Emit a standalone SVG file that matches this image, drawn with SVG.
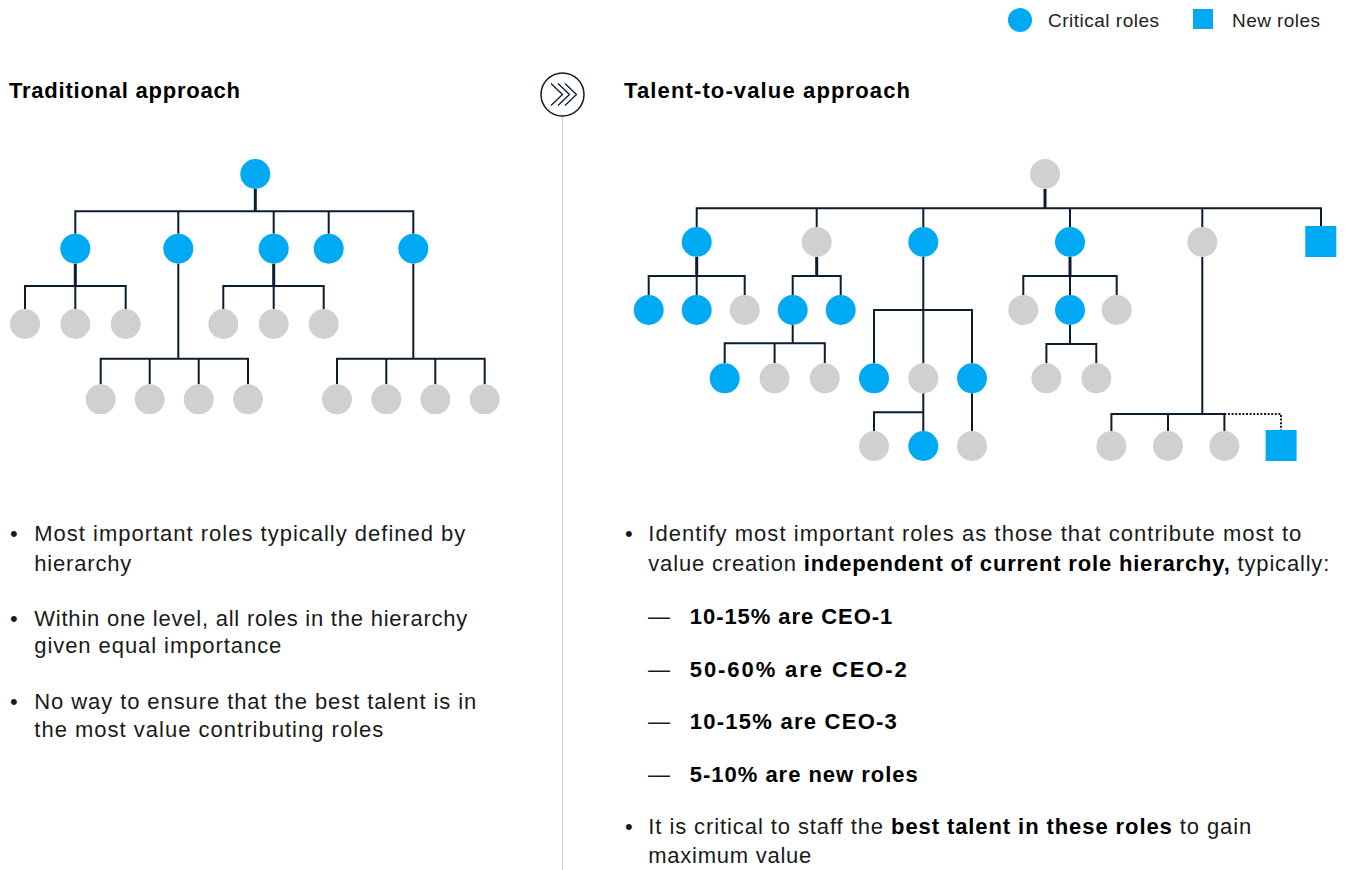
<svg xmlns="http://www.w3.org/2000/svg" width="1345" height="870" viewBox="0 0 1345 870">
<style>
.ln{stroke:#0b1d2e;stroke-width:2;fill:none}
.st{stroke:#0b1d2e;stroke-width:3;fill:none}
.dot{stroke:#0b1d2e;stroke-width:2;stroke-dasharray:2 1.6;fill:none}
.c{fill:#00a9f4}
.g{fill:#d0d0d0}
.t{font-family:"Liberation Sans",Arial,sans-serif;font-size:22px;fill:#1a1a1a}
.b{font-weight:bold;fill:#000}
.h{font-family:"Liberation Sans",Arial,sans-serif;font-size:22px;font-weight:bold;fill:#000}
.lg{font-family:"Liberation Sans",Arial,sans-serif;font-size:19px;fill:#222}
.sep{stroke:#cfcfcf;stroke-width:1;fill:none}
.chev{stroke:#0b1d2e;stroke-width:1.3;fill:none}
</style>
<rect width="1345" height="870" fill="#fff"/>

<g id="legend">
  <circle class="c" cx="1020" cy="20" r="12"/>
  <text class="lg" x="1048" y="27" textLength="111" lengthAdjust="spacing">Critical roles</text>
  <rect class="c" x="1193" y="9" width="20" height="20"/>
  <text class="lg" x="1232" y="27" textLength="88" lengthAdjust="spacing">New roles</text>
</g>

<g id="divider">
  <line class="sep" x1="562.5" y1="116" x2="562.5" y2="870"/>
  <circle cx="562.5" cy="94.5" r="21.5" fill="#fff" stroke="#0b1d2e" stroke-width="1.5"/>
  <path class="chev" d="M551 83.5 L562.5 94.5 L551 105.5 M558 83.5 L569.5 94.5 L558 105.5 M565 83.5 L576.5 94.5 L565 105.5"/>
</g>

<g id="headers">
  <text class="h" x="9" y="98" textLength="231" lengthAdjust="spacing">Traditional approach</text>
  <text class="h" x="624" y="98" textLength="286" lengthAdjust="spacing">Talent-to-value approach</text>
</g>

<g id="connectors">
  <!-- left tree -->
  <path class="st" d="M255.3 189 V211.3"/>
  <path class="ln" d="M75.3 233.7 V211.3 H413.3 V233.7 M178.3 211.3 V233.7 M273.7 211.3 V233.7 M328.7 211.3 V233.7"/>
  <path class="st" d="M75.3 263.7 V286 M273.7 263.7 V286"/>
  <path class="ln" d="M25 309 V286 H125.7 V309 M75.3 286 V309"/>
  <path class="ln" d="M223.3 309 V286 H323.7 V309 M273.7 286 V309"/>
  <path class="ln" d="M178.3 263.7 V358.7 M413.3 263.7 V358.7"/>
  <path class="ln" d="M100.7 384.3 V358.7 H248 V384.3 M149.7 358.7 V384.3 M198.7 358.7 V384.3"/>
  <path class="ln" d="M337 384.3 V358.7 H484.7 V384.3 M386.3 358.7 V384.3 M435.3 358.7 V384.3"/>
  <!-- right tree -->
  <path class="st" d="M1045 189 V208.3"/>
  <path class="ln" d="M696.7 227 V208.3 H1321 V226 M816.7 208.3 V227 M923.3 208.3 V227 M1070 208.3 V227 M1202.3 208.3 V227"/>
  <path class="st" d="M696.7 257 V276 M816.7 257 V276 M1070 257 V276"/>
  <path class="ln" d="M648.7 295 V276 H744.7 V295 M696.7 276 V295"/>
  <path class="ln" d="M792.7 295 V276 H840.7 V295"/>
  <path class="ln" d="M792.7 325 V343.3 M724.7 363.3 V343.3 H824.8 V363.3 M774.6 343.3 V363.3"/>
  <path class="ln" d="M923.3 257 V310 M874 363.3 V310 H972 V363.3 M923.3 310 V363.3"/>
  <path class="ln" d="M923.3 393.3 V431 M874 431 V412.3 H923.3"/>
  <path class="ln" d="M972 393.3 V431"/>
  <path class="ln" d="M1023.3 295 V276 H1116.7 V295 M1070 276 V295"/>
  <path class="ln" d="M1070 325 V344 M1046.4 363.3 V344 H1096.3 V363.3"/>
  <path class="ln" d="M1202.3 257 V414 M1111.4 431 V414 H1224.4 V431 M1168 414 V431"/>
  <path class="dot" d="M1224.4 414 H1281 V430"/>
</g>

<g id="left-tree">
  <g id="L-root"><circle class="c" cx="255.3" cy="174" r="15"/></g>
  <g id="L-a"><circle class="c" cx="75.3" cy="248.7" r="15"/></g>
  <g id="L-b"><circle class="c" cx="178.3" cy="248.7" r="15"/></g>
  <g id="L-c"><circle class="c" cx="273.7" cy="248.7" r="15"/></g>
  <g id="L-d"><circle class="c" cx="328.7" cy="248.7" r="15"/></g>
  <g id="L-e"><circle class="c" cx="413.3" cy="248.7" r="15"/></g>
  <g id="L-a1"><circle class="g" cx="25" cy="324" r="15"/></g>
  <g id="L-a2"><circle class="g" cx="75.3" cy="324" r="15"/></g>
  <g id="L-a3"><circle class="g" cx="125.7" cy="324" r="15"/></g>
  <g id="L-c1"><circle class="g" cx="223.3" cy="324" r="15"/></g>
  <g id="L-c2"><circle class="g" cx="273.7" cy="324" r="15"/></g>
  <g id="L-c3"><circle class="g" cx="323.7" cy="324" r="15"/></g>
  <g id="L-b1"><circle class="g" cx="100.7" cy="399.3" r="15"/></g>
  <g id="L-b2"><circle class="g" cx="149.7" cy="399.3" r="15"/></g>
  <g id="L-b3"><circle class="g" cx="198.7" cy="399.3" r="15"/></g>
  <g id="L-b4"><circle class="g" cx="248" cy="399.3" r="15"/></g>
  <g id="L-e1"><circle class="g" cx="337" cy="399.3" r="15"/></g>
  <g id="L-e2"><circle class="g" cx="386.3" cy="399.3" r="15"/></g>
  <g id="L-e3"><circle class="g" cx="435.3" cy="399.3" r="15"/></g>
  <g id="L-e4"><circle class="g" cx="484.7" cy="399.3" r="15"/></g>
</g>

<g id="right-tree">
  <g id="R-root"><circle class="g" cx="1045" cy="174" r="15"/></g>
  <g id="R-a"><circle class="c" cx="696.7" cy="242" r="15"/></g>
  <g id="R-b"><circle class="g" cx="816.7" cy="242" r="15"/></g>
  <g id="R-c"><circle class="c" cx="923.3" cy="242" r="15"/></g>
  <g id="R-d"><circle class="c" cx="1070" cy="242" r="15"/></g>
  <g id="R-e"><circle class="g" cx="1202.3" cy="242" r="15"/></g>
  <g id="R-new1"><rect class="c" x="1305.3" y="226" width="31" height="31"/></g>
  <g id="R-a1"><circle class="c" cx="648.7" cy="310" r="15"/></g>
  <g id="R-a2"><circle class="c" cx="696.7" cy="310" r="15"/></g>
  <g id="R-a3"><circle class="g" cx="744.7" cy="310" r="15"/></g>
  <g id="R-b1"><circle class="c" cx="792.7" cy="310" r="15"/></g>
  <g id="R-b2"><circle class="c" cx="840.7" cy="310" r="15"/></g>
  <g id="R-b1a"><circle class="c" cx="724.7" cy="378.3" r="15"/></g>
  <g id="R-b1b"><circle class="g" cx="774.6" cy="378.3" r="15"/></g>
  <g id="R-b1c"><circle class="g" cx="824.8" cy="378.3" r="15"/></g>
  <g id="R-c1"><circle class="c" cx="874" cy="378.3" r="15"/></g>
  <g id="R-c2"><circle class="g" cx="923.3" cy="378.3" r="15"/></g>
  <g id="R-c3"><circle class="c" cx="972" cy="378.3" r="15"/></g>
  <g id="R-c2a"><circle class="g" cx="874" cy="446" r="15"/></g>
  <g id="R-c2b"><circle class="c" cx="923.3" cy="446" r="15"/></g>
  <g id="R-c3a"><circle class="g" cx="972" cy="446" r="15"/></g>
  <g id="R-d1"><circle class="g" cx="1023.3" cy="310" r="15"/></g>
  <g id="R-d2"><circle class="c" cx="1070" cy="310" r="15"/></g>
  <g id="R-d3"><circle class="g" cx="1116.7" cy="310" r="15"/></g>
  <g id="R-d2a"><circle class="g" cx="1046.4" cy="378.3" r="15"/></g>
  <g id="R-d2b"><circle class="g" cx="1096.3" cy="378.3" r="15"/></g>
  <g id="R-e1"><circle class="g" cx="1111.4" cy="446" r="15"/></g>
  <g id="R-e2"><circle class="g" cx="1168" cy="446" r="15"/></g>
  <g id="R-e3"><circle class="g" cx="1224.4" cy="446" r="15"/></g>
  <g id="R-new2"><rect class="c" x="1265.6" y="430" width="31" height="31"/></g>
</g>

<g id="left-text" class="t">
  <text x="10" y="541">•</text>
  <text x="34.3" y="541" textLength="431" lengthAdjust="spacing">Most important roles typically defined by</text>
  <text x="34.3" y="570.7" textLength="97" lengthAdjust="spacing">hierarchy</text>
  <text x="10" y="625.7">•</text>
  <text x="34.3" y="625.7" textLength="433" lengthAdjust="spacing">Within one level, all roles in the hierarchy</text>
  <text x="34.3" y="653.3" textLength="247" lengthAdjust="spacing">given equal importance</text>
  <text x="10" y="709.3">•</text>
  <text x="34.3" y="709.3" textLength="442" lengthAdjust="spacing">No way to ensure that the best talent is in</text>
  <text x="34.3" y="737" textLength="349" lengthAdjust="spacing">the most value contributing roles</text>
</g>

<g id="right-text" class="t">
  <text x="625" y="541">•</text>
  <text x="648.3" y="541" textLength="653" lengthAdjust="spacing">Identify most important roles as those that contribute most to</text>
  <text x="648.3" y="570.7" textLength="681" lengthAdjust="spacing">value creation <tspan class="b">independent of current role hierarchy,</tspan> typically:</text>
  <text x="648" y="624.3">—</text>
  <text class="b" x="689.8" y="624.3" textLength="202.5" lengthAdjust="spacing">10-15% are CEO-1</text>
  <text x="648" y="676.7">—</text>
  <text class="b" x="689.8" y="676.7" textLength="217" lengthAdjust="spacing">50-60% are CEO-2</text>
  <text x="648" y="729.3">—</text>
  <text class="b" x="689.8" y="729.3" textLength="207" lengthAdjust="spacing">10-15% are CEO-3</text>
  <text x="648" y="781.7">—</text>
  <text class="b" x="689.8" y="781.7" textLength="228" lengthAdjust="spacing">5-10% are new roles</text>
  <text x="625" y="834.3">•</text>
  <text x="648.3" y="834.3" textLength="603" lengthAdjust="spacing">It is critical to staff the <tspan class="b">best talent in these roles</tspan> to gain</text>
  <text x="648.3" y="863.3" textLength="163" lengthAdjust="spacing">maximum value</text>
</g>
</svg>
